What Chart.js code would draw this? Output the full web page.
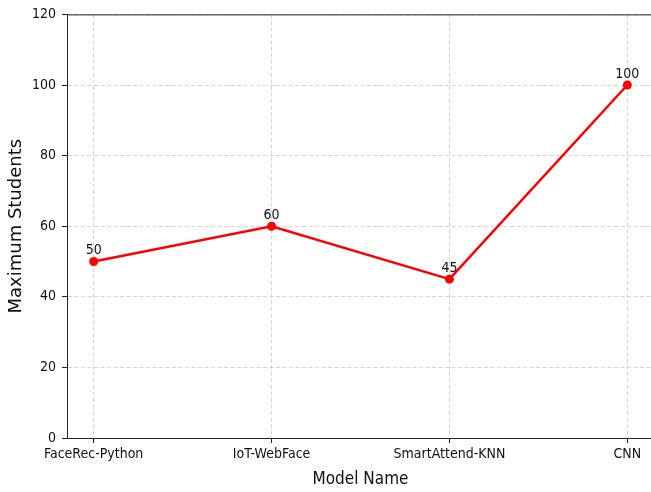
<!DOCTYPE html>
<html>
<head>
<meta charset="utf-8">
<script src="https://cdn.jsdelivr.net/npm/chart.js@4.4.1/dist/chart.umd.min.js"></script>
<style>
html,body{margin:0;padding:0;background:#fff;overflow:hidden;}
#wrap{width:651px;height:492px;overflow:hidden;position:relative;}
canvas{display:block;}
</style>
</head>
<body>
<div id="wrap"><canvas id="c" width="660" height="492"></canvas></div>
<script>
const categories = ["FaceRec-Python", "IoT-WebFace", "SmartAttend-KNN", "CNN"];
const maxStudents = [50, 60, 45, 100];
const yTicks = [0, 20, 40, 60, 80, 100, 120];

const tickFont = {family: "'DejaVu Sans Condensed', 'DejaVu Sans', sans-serif", size: 14};
const gridColor = 'rgba(185,185,185,0.6)';

const topSpine = {
  id: 'topSpine',
  afterDraw(chart) {
    const {ctx, chartArea} = chart;
    ctx.save();
    ctx.strokeStyle = '#222';
    ctx.lineWidth = 1;
    ctx.beginPath();
    ctx.moveTo(chartArea.left, chartArea.top + 0.5);
    ctx.lineTo(chart.width, chartArea.top + 0.5);
    ctx.stroke();
    ctx.restore();
  }
};

const valueLabels = {
  id: 'valueLabels',
  afterDatasetsDraw(chart) {
    const {ctx} = chart;
    const meta = chart.getDatasetMeta(0);
    ctx.save();
    ctx.font = "14px 'DejaVu Sans Condensed', 'DejaVu Sans', sans-serif";
    ctx.fillStyle = '#111';
    ctx.textAlign = 'center';
    ctx.textBaseline = 'alphabetic';
    meta.data.forEach((pt, i) => {
      ctx.fillText(String(maxStudents[i]), pt.x, pt.y - 7.5);
    });
    ctx.restore();
  }
};

new Chart(document.getElementById('c'), {
  type: 'line',
  data: {
    datasets: [{
      data: maxStudents.map((v, i) => ({x: i, y: v})),
      borderColor: 'red',
      backgroundColor: 'red',
      borderWidth: 2.5,
      pointRadius: 4.5,
      pointBackgroundColor: 'red',
      pointBorderColor: 'red',
      pointBorderWidth: 0,
      tension: 0,
      fill: false
    }]
  },
  options: {
    responsive: false,
    animation: false,
    devicePixelRatio: 1,
    layout: {padding: {top: 13, left: 0, right: 6, bottom: 0}},
    plugins: {legend: {display: false}, tooltip: {enabled: false}},
    scales: {
      x: {
        type: 'linear',
        min: -0.15,
        max: 3.15,
        afterBuildTicks: s => { s.ticks = categories.map((_, i) => ({value: i})); },
        afterFit: s => { s.height = 54; },
        ticks: {
          callback: v => categories[v],
          font: tickFont,
          color: '#111',
          padding: 3,
          maxRotation: 0,
          autoSkip: false
        },
        grid: {
          color: gridColor,
          tickColor: '#222',
          tickLength: 5,
          tickBorderDash: [],
          drawTicks: true
        },
        border: {display: true, color: '#222', width: 1, dash: [4, 2.5]},
        title: {
          display: true,
          text: 'Model Name',
          font: {family: "'DejaVu Sans Condensed', 'DejaVu Sans', sans-serif", size: 17},
          color: '#111',
          padding: {top: 0, bottom: 2}
        }
      },
      y: {
        min: 0,
        max: 120,
        afterBuildTicks: s => { s.ticks = yTicks.map(v => ({value: v})); },
        afterFit: s => { s.width = 67; },
        ticks: {
          font: tickFont,
          color: '#111',
          padding: 6
        },
        grid: {
          color: gridColor,
          tickColor: '#222',
          tickLength: 5,
          tickBorderDash: [],
          drawTicks: true
        },
        border: {display: true, color: '#222', width: 1, dash: [4, 2.5]},
        title: {
          display: true,
          text: 'Maximum Students',
          font: {family: "'DejaVu Sans', sans-serif", size: 18},
          color: '#111',
          padding: {top: 6, bottom: 0}
        }
      }
    }
  },
  plugins: [topSpine, valueLabels]
});
</script>
</body>
</html>
